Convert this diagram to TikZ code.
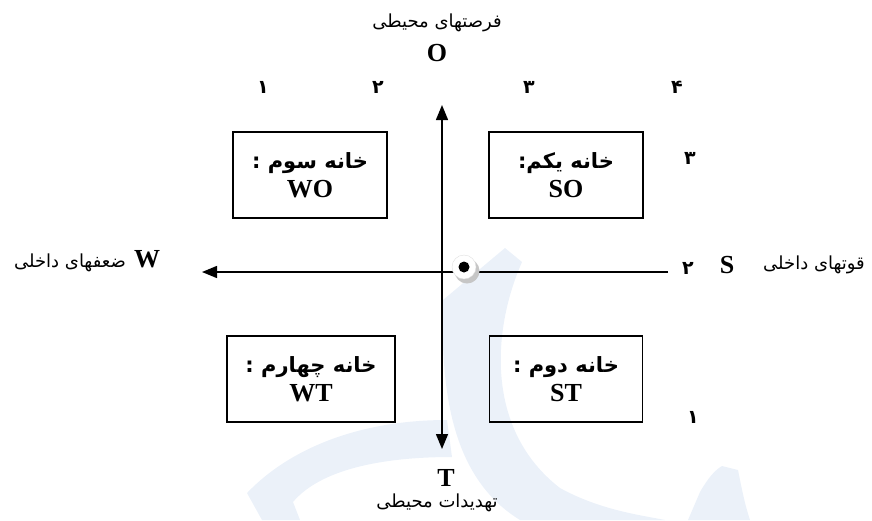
\documentclass[tikz,border=0pt]{standalone}
\usepackage{fontspec}
\setmainfont{Liberation Serif}
\newfontfamily\fa[Script=Arabic]{DejaVu Sans}
\TeXXeTstate=1
\usetikzlibrary{arrows.meta}
\definecolor{wm}{RGB}{235,241,249}
\begin{document}
\begin{tikzpicture}[x=1pt,y=-1pt,
  lat/.style={font=\fontsize{26}{28}\selectfont\bfseries, inner sep=0pt},
  per/.style={font=\fa\fontsize{18}{20}\selectfont, inner sep=0pt},
  num/.style={font=\fa\fontsize{19}{20}\selectfont\bfseries, inner sep=0pt},
  cell/.style={draw, line width=1.3pt, minimum height=86pt, align=center, inner sep=0pt,
     font=\fontsize{26}{29}\selectfont\bfseries},
  pcell/.style={font=\fa\fontsize{21}{24}\selectfont\bfseries},
  axis/.style={line width=1.4pt}]
\useasboundingbox (0,0) rectangle (872,520);
% watermark
\fill[wm] (443,300) -- (505,248) -- (522,262) .. controls (492,330) and (485,430) .. (560,488)
   .. controls (600,510) and (640,515) .. (665,520) -- (520,520)
   .. controls (455,480) and (440,400) .. (443,300) -- cycle;
\fill[wm] (700,492) .. controls (708,478) and (715,470) .. (722,466) -- (738,470)
   .. controls (742,490) and (745,505) .. (750,520) -- (688,520) -- cycle;
\fill[wm] (247,493) .. controls (290,448) and (360,420) .. (447,420) -- (452,457)
   .. controls (380,457) and (320,470) .. (293,502) -- (300,520) -- (262,520) -- cycle;
% axes
\coordinate (otip) at (442,105);
\coordinate (ttip) at (442,449);
\coordinate (wtip) at (202,272);
\coordinate (send) at (668,272);
\draw[axis,{Triangle[length=15pt,width=12pt]}-{Triangle[length=15pt,width=12pt]}] (otip) -- (ttip);
\draw[axis,-{Triangle[length=15pt,width=12pt]}] (send) -- (wtip);
% centre dot
\fill[gray!45] (467,271) circle (12.5);
\filldraw[white, draw=gray!25] (464,267) circle (12);
\fill[black] (464,267) circle (5.5);
% boxes
\node[cell, minimum width=154pt] (wo) at (310,175) {{\fa\fontsize{21}{24}\selectfont\beginR خانه سوم :\endR}\\WO};
\node[cell, minimum width=154pt] (so) at (566,175) {{\fa\fontsize{21}{24}\selectfont\beginR خانه یکم:\endR}\\SO};
\node[cell, minimum width=168pt] (wt) at (311,379) {{\fa\fontsize{21}{24}\selectfont\beginR خانه چهارم :\endR}\\WT};
\node[cell, minimum width=153pt] (st) at (566,379) {{\fa\fontsize{21}{24}\selectfont\beginR خانه دوم :\endR}\\ST};
% labels
\node[per] (otitle) at (437,23) {\beginR فرصتهای محیطی\endR};
\node[lat] (o) at (437,53) {O};
\node[lat] (t) at (446,478) {T};
\node[per] (ttitle) at (437,503) {\beginR تهدیدات محیطی\endR};
\node[lat] (w) at (147,259) {W};
\node[per] (wtitle) at (70,263) {\beginR ضعفهای داخلی\endR};
\node[lat] (s) at (727,265) {S};
\node[per] (stitle) at (814,265) {\beginR قوتهای داخلی\endR};
% numbers
\node[num] (n1) at (263,87) {۱};
\node[num] (n2) at (378,87) {۲};
\node[num] (n3) at (529,87) {۳};
\node[num] (n4) at (677,87) {۴};
\node[num] (r3) at (690,158) {۳};
\node[num] (r2) at (688,268) {۲};
\node[num] (r1) at (693,417) {۱};
\end{tikzpicture}
\end{document}
